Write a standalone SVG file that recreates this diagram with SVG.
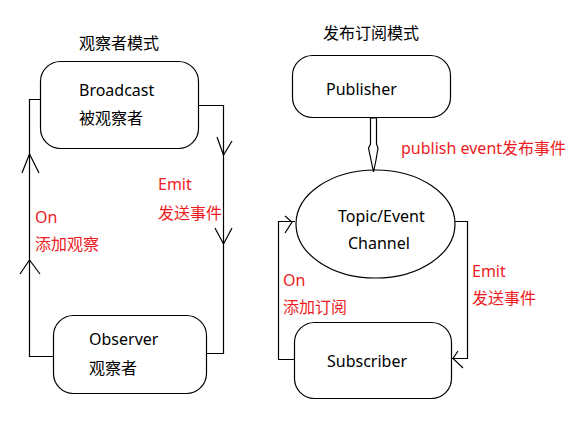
<svg xmlns="http://www.w3.org/2000/svg" width="584" height="421" viewBox="0 0 584 421">
<style>
text{font-family:"Noto Sans","Noto Sans CJK SC",sans-serif;font-size:16px;fill:#000}
.r{fill:#ed1c24}
.box{fill:none;stroke:#000;stroke-width:1.2}
.ln{fill:none;stroke:#000;stroke-width:1.2}
</style>
<rect width="584" height="421" fill="#fff"/>
<text x="79" y="49">观察者模式</text>
<text x="323" y="39">发布订阅模式</text>
<g id="broadcast">
<rect class="box" x="40.5" y="61.5" width="158" height="87" rx="20"/>
<text x="79" y="96">Broadcast</text>
<text x="79" y="124">被观察者</text>
</g>
<g id="observer">
<rect class="box" x="53.5" y="315.5" width="153" height="78" rx="20"/>
<text x="89" y="345">Observer</text>
<text x="89" y="374">观察者</text>
</g>
<g id="publisher">
<rect class="box" x="292.5" y="55.5" width="158" height="62" rx="20"/>
<text x="326" y="95">Publisher</text>
</g>
<g id="channel">
<ellipse class="box" cx="375.5" cy="224" rx="79.5" ry="54"/>
<text x="338" y="222">Topic/Event</text>
<text x="348" y="249">Channel</text>
</g>
<g id="subscriber">
<rect class="box" x="294.5" y="322.5" width="157" height="76" rx="20"/>
<text x="327" y="367">Subscriber</text>
</g>
<g id="connectors">
<polyline class="ln" points="40,99.5 29.5,99.5 29.5,356.5 53,356.5"/>
<polyline class="ln" points="22,173 29.5,154 39,173"/>
<polyline class="ln" points="20,274 29.5,260 40,274"/>
<polyline class="ln" points="199,105.5 223.5,105.5 223.5,353.5 207,353.5"/>
<polyline class="ln" points="217,137 223.5,155 232,141"/>
<polyline class="ln" points="215,228 223.5,244 232,228"/>
<polygon class="ln" points="370.5,118 376.5,118 376.5,144 378,148 376,160 373.5,172 371,160 368.5,148 370.5,144"/>
<polyline class="ln" points="455,221.5 467.5,221.5 467.5,358.5 452,358.5"/>
<polyline class="ln" points="458,351 453,358.5 463,368"/>
<polyline class="ln" points="295,359.5 278.5,359.5 278.5,221.5 295,221.5"/>
<polyline class="ln" points="285,216 292,222 285,233"/>
</g>
<g id="labels">
<text class="r" x="158" y="190">Emit</text>
<text class="r" x="158" y="219">发送事件</text>
<text class="r" x="35" y="223">On</text>
<text class="r" x="35" y="250">添加观察</text>
<text class="r" x="401" y="154">publish event发布事件</text>
<text class="r" x="472" y="277">Emit</text>
<text class="r" x="472" y="304">发送事件</text>
<text class="r" x="283" y="286">On</text>
<text class="r" x="283" y="313">添加订阅</text>
</g>
</svg>
